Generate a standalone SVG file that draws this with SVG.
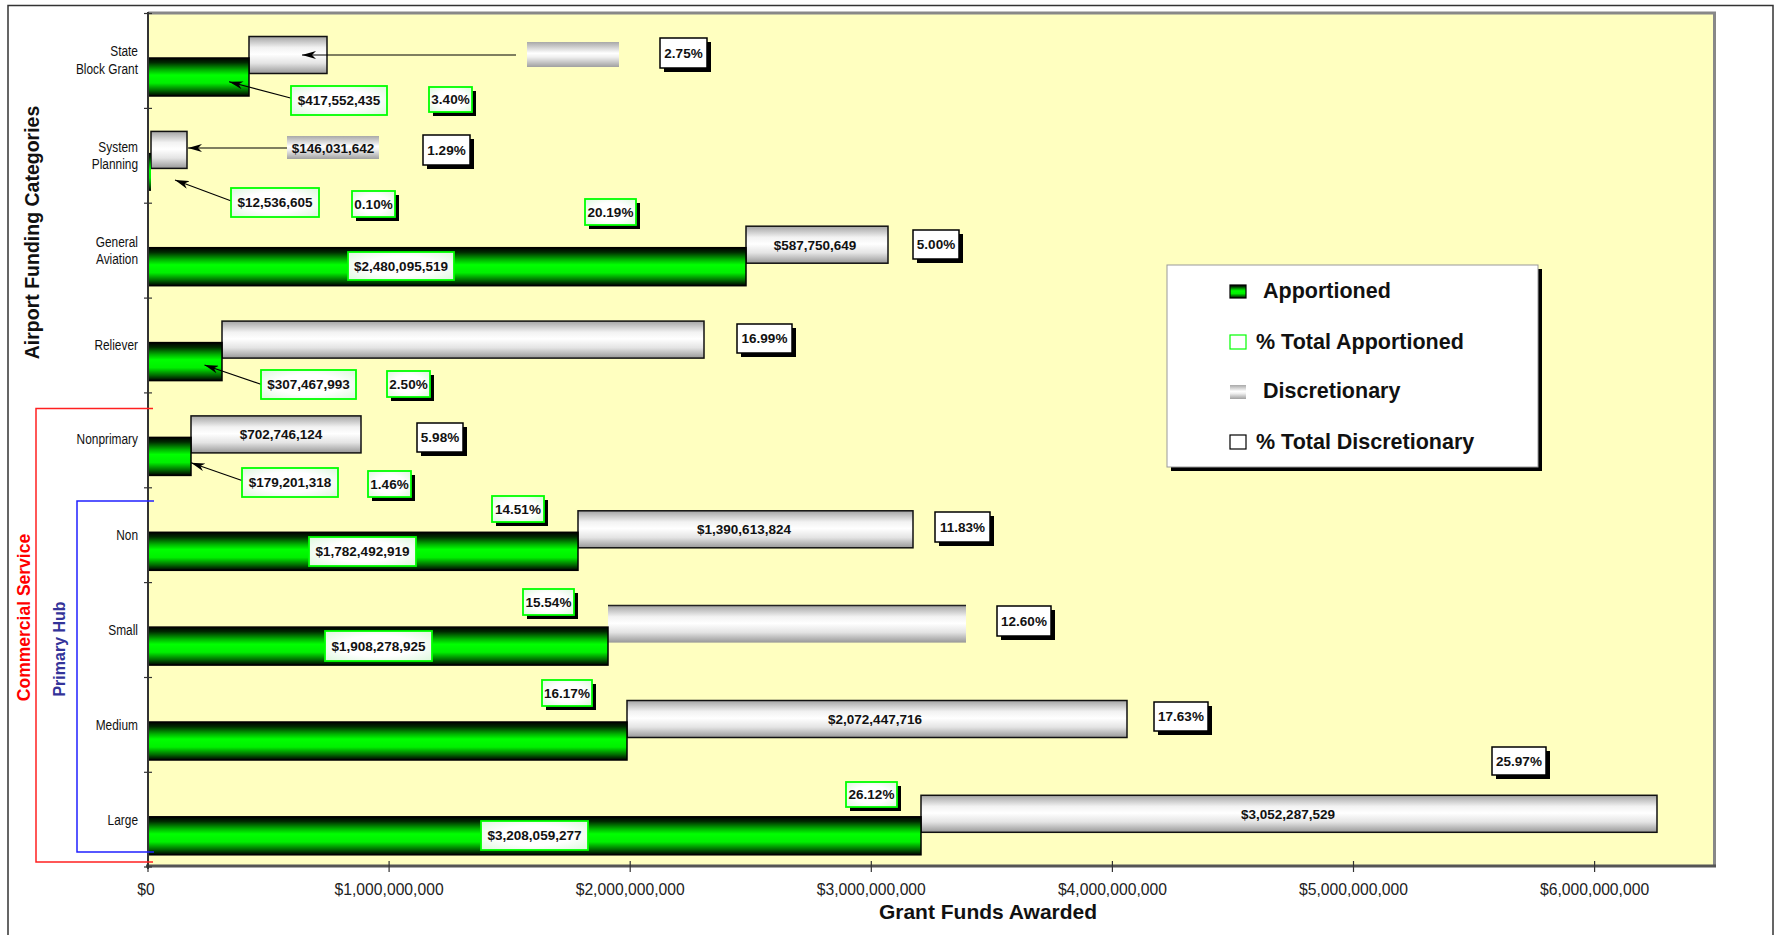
<svg xmlns="http://www.w3.org/2000/svg" width="1775" height="935" viewBox="0 0 1775 935">
<defs>
<linearGradient id="gGreen" x1="0" y1="0" x2="0" y2="1">
<stop offset="0" stop-color="#000"/><stop offset="0.12" stop-color="#002a00"/><stop offset="0.32" stop-color="#00b400"/><stop offset="0.45" stop-color="#00ff00"/><stop offset="0.66" stop-color="#00f000"/><stop offset="0.86" stop-color="#006a00"/><stop offset="1" stop-color="#000"/>
</linearGradient>
<linearGradient id="gGray" x1="0" y1="0" x2="0" y2="1">
<stop offset="0" stop-color="#a4a4a4"/><stop offset="0.3" stop-color="#f2f2f2"/><stop offset="0.48" stop-color="#ffffff"/><stop offset="0.72" stop-color="#e4e4e4"/><stop offset="1" stop-color="#989898"/>
</linearGradient>
<linearGradient id="gGrayLbl" x1="0" y1="0" x2="0" y2="1">
<stop offset="0" stop-color="#a8a8a8"/><stop offset="0.45" stop-color="#ffffff"/><stop offset="0.6" stop-color="#f0f0f0"/><stop offset="1" stop-color="#a0a0a0"/>
</linearGradient>
<radialGradient id="gGreenLbl" cx="0.5" cy="0.5" r="0.7">
<stop offset="0.5" stop-color="#ffffff"/><stop offset="1" stop-color="#dcf8dc"/>
</radialGradient>
<marker id="arr" viewBox="0 0 14 8" refX="14" refY="4" markerWidth="14" markerHeight="8" markerUnits="userSpaceOnUse" orient="auto">
<path d="M0,0 L14,4 L0,8 L4,4 Z" fill="#000"/>
</marker>
<style>
.bg{fill:#ffffc0}
.green{fill:url(#gGreen);stroke:#000;stroke-width:1.5}
.gray{fill:url(#gGray);stroke:#111;stroke-width:1.5}
.glbl{fill:url(#gGreenLbl);stroke:#00ff00;stroke-width:1.8}
.blbl{fill:#fff;stroke:#000;stroke-width:1.5}
.shadow{fill:#000}
.graylbl{fill:url(#gGrayLbl)}
.v{font-family:"Liberation Sans",Arial,sans-serif;font-weight:bold;font-size:13.5px;fill:#111;text-anchor:middle}
.cat{font-family:"Liberation Sans",Arial,sans-serif;font-size:14.5px;fill:#111;text-anchor:end}
.tick{font-family:"Liberation Sans",Arial,sans-serif;font-size:15.7px;fill:#222;text-anchor:middle}
.leg{font-family:"Liberation Sans",Arial,sans-serif;font-weight:bold;font-size:21.5px;fill:#111}
.conn{stroke:#000;stroke-width:1.1;fill:none;marker-end:url(#arr)}
</style>
</defs>
<rect x="0" y="0" width="1775" height="935" fill="#fff"/>
<rect x="8" y="5.5" width="1765" height="940" fill="none" stroke="#333" stroke-width="1.5"/>

<g id="plot-area">
<rect class="bg" x="148" y="14" width="1566" height="852"/>
<line x1="148" y1="13" x2="1716" y2="13" stroke="#888" stroke-width="3"/>
<line x1="1714.5" y1="12" x2="1714.5" y2="867" stroke="#888" stroke-width="3"/>
</g>

<g id="bars">
<rect class="gray" x="249" y="36.5" width="78" height="37"/>
<rect class="gray" x="151" y="131.4" width="36" height="37"/>
<rect class="gray" x="746" y="226.2" width="142" height="37"/>
<rect class="gray" x="222" y="321.1" width="482" height="37"/>
<rect class="gray" x="191" y="415.9" width="170" height="37"/>
<rect class="gray" x="578" y="510.8" width="335" height="37"/>
<rect fill="url(#gGray)" x="608" y="605.6" width="358" height="37"/>
<line x1="608" y1="605.6" x2="966" y2="605.6" stroke="#222" stroke-width="1.5"/>
<rect class="gray" x="627" y="700.5" width="500" height="37"/>
<rect class="gray" x="921" y="795.3" width="736" height="37"/>
<rect class="green" x="148" y="58" width="101" height="38"/>
<rect fill="url(#gGreen)" x="148" y="152.9" width="3" height="38"/>
<rect class="green" x="148" y="247.7" width="598" height="38"/>
<rect class="green" x="148" y="342.6" width="74" height="38"/>
<rect class="green" x="148" y="437.4" width="43" height="38"/>
<rect class="green" x="148" y="532.3" width="430" height="38"/>
<rect class="green" x="148" y="627.1" width="460" height="38"/>
<rect class="green" x="148" y="722" width="479" height="38"/>
<rect class="green" x="148" y="816.8" width="773" height="38"/>
</g>

<g id="axes">
<line x1="146" y1="866" x2="1716" y2="866" stroke="#555" stroke-width="3"/>
<line x1="148" y1="12" x2="148" y2="869" stroke="#333" stroke-width="2"/>
<g stroke="#333" stroke-width="1.2">
<line x1="144" y1="13.5" x2="152" y2="13.5"/><line x1="144" y1="108.4" x2="152" y2="108.4"/>
<line x1="144" y1="203.2" x2="152" y2="203.2"/><line x1="144" y1="298.1" x2="152" y2="298.1"/>
<line x1="144" y1="392.9" x2="152" y2="392.9"/><line x1="144" y1="487.8" x2="152" y2="487.8"/>
<line x1="144" y1="582.6" x2="152" y2="582.6"/><line x1="144" y1="677.5" x2="152" y2="677.5"/>
<line x1="144" y1="772.3" x2="152" y2="772.3"/><line x1="144" y1="867" x2="152" y2="867"/>
<line x1="148" y1="861" x2="148" y2="872"/><line x1="389.1" y1="861" x2="389.1" y2="872"/>
<line x1="630.2" y1="861" x2="630.2" y2="872"/><line x1="871.3" y1="861" x2="871.3" y2="872"/>
<line x1="1112.4" y1="861" x2="1112.4" y2="872"/><line x1="1353.5" y1="861" x2="1353.5" y2="872"/>
<line x1="1594.6" y1="861" x2="1594.6" y2="872"/>
</g>
<text class="tick" x="146" y="895">$0</text>
<text class="tick" x="389.1" y="895">$1,000,000,000</text>
<text class="tick" x="630.2" y="895">$2,000,000,000</text>
<text class="tick" x="871.3" y="895">$3,000,000,000</text>
<text class="tick" x="1112.4" y="895">$4,000,000,000</text>
<text class="tick" x="1353.5" y="895">$5,000,000,000</text>
<text class="tick" x="1594.6" y="895">$6,000,000,000</text>
<text x="988" y="919" font-family="Liberation Sans, Arial, sans-serif" font-weight="bold" font-size="21" fill="#111" text-anchor="middle">Grant Funds Awarded</text>
<text transform="translate(39,232.5) rotate(-90)" font-family="Liberation Sans, Arial, sans-serif" font-weight="bold" font-size="19.5" fill="#111" text-anchor="middle">Airport Funding Categories</text>
</g>

<g id="category-labels" transform="translate(138,0) scale(0.82,1) translate(-138,0)">
<text class="cat" x="138" y="56.5">State</text>
<text class="cat" x="138" y="74.5">Block Grant</text>
<text class="cat" x="138" y="152">System</text>
<text class="cat" x="138" y="169.5">Planning</text>
<text class="cat" x="138" y="247">General</text>
<text class="cat" x="138" y="264.5">Aviation</text>
<text class="cat" x="138" y="349.7">Reliever</text>
<text class="cat" x="138" y="444.5">Nonprimary</text>
<text class="cat" x="138" y="539.7">Non</text>
<text class="cat" x="138" y="634.7">Small</text>
<text class="cat" x="138" y="729.7">Medium</text>
<text class="cat" x="138" y="824.7">Large</text>
</g>

<g id="group-brackets">
<polyline points="153,408.5 36,408.5 36,862 153,862" fill="none" stroke="#ff2020" stroke-width="1.5"/>
<polyline points="154,501 77,501 77,852 154,852" fill="none" stroke="#2020ff" stroke-width="1.5"/>
<text transform="translate(30,617.5) rotate(-90)" font-family="Liberation Sans, Arial, sans-serif" font-weight="bold" font-size="17.5" fill="#ff0000" text-anchor="middle">Commercial Service</text>
<text transform="translate(64.5,649) rotate(-90)" font-family="Liberation Sans, Arial, sans-serif" font-weight="bold" font-size="16" fill="#333399" text-anchor="middle">Primary Hub</text>
</g>

<g id="connectors">
<line class="conn" x1="516" y1="55" x2="302" y2="55"/>
<line class="conn" x1="291.5" y1="98.3" x2="229" y2="81.7"/>
<line class="conn" x1="287" y1="148" x2="188" y2="148"/>
<line class="conn" x1="234" y1="202" x2="175" y2="180"/>
<line class="conn" x1="263" y1="385" x2="204.5" y2="365"/>
<line class="conn" x1="245.5" y1="481.7" x2="191" y2="462.7"/>
</g>

<g id="bar-values">
<text class="v" x="815" y="249.5">$587,750,649</text>
<text class="v" x="281" y="439.3">$702,746,124</text>
<text class="v" x="744" y="534">$1,390,613,824</text>
<text class="v" x="875" y="724">$2,072,447,716</text>
<text class="v" x="1288" y="819">$3,052,287,529</text>
</g>

<g id="gray-labels">
<rect class="graylbl" x="527" y="42" width="92" height="25"/>
<rect class="graylbl" x="287" y="136" width="92" height="23"/>
<text class="v" x="333" y="152.5">$146,031,642</text>
</g>

<g id="apportioned-values">
<rect class="glbl" x="291" y="86" width="96" height="29"/><text class="v" x="339" y="105.3">$417,552,435</text>
<rect class="glbl" x="231" y="188" width="88" height="29"/><text class="v" x="275" y="207.3">$12,536,605</text>
<rect class="glbl" x="348" y="252" width="106" height="28"/><text class="v" x="401" y="270.8">$2,480,095,519</text>
<rect class="glbl" x="261" y="370" width="95" height="29"/><text class="v" x="308.5" y="389.3">$307,467,993</text>
<rect class="glbl" x="242" y="468" width="96" height="29"/><text class="v" x="290" y="487.3">$179,201,318</text>
<rect class="glbl" x="309" y="537" width="107" height="29"/><text class="v" x="362.5" y="556.3">$1,782,492,919</text>
<rect class="glbl" x="325" y="631" width="107" height="30"/><text class="v" x="378.5" y="650.8">$1,908,278,925</text>
<rect class="glbl" x="481" y="821" width="107" height="29"/><text class="v" x="534.5" y="840.3">$3,208,059,277</text>
</g>

<g id="pct-apportioned">
<rect class="shadow" x="433" y="91" width="43" height="25"/><rect class="glbl" x="429" y="87" width="43" height="25"/><text class="v" x="450.5" y="104.3">3.40%</text>
<rect class="shadow" x="356" y="195" width="43" height="26"/><rect class="glbl" x="352" y="191" width="43" height="26"/><text class="v" x="373.5" y="208.8">0.10%</text>
<rect class="shadow" x="589" y="203" width="51" height="26"/><rect class="glbl" x="585" y="199" width="51" height="26"/><text class="v" x="610.5" y="216.8">20.19%</text>
<rect class="shadow" x="391" y="375" width="43" height="26"/><rect class="glbl" x="387" y="371" width="43" height="26"/><text class="v" x="408.5" y="388.8">2.50%</text>
<rect class="shadow" x="372" y="475" width="43" height="26"/><rect class="glbl" x="368" y="471" width="43" height="26"/><text class="v" x="389.5" y="488.8">1.46%</text>
<rect class="shadow" x="496" y="500" width="52" height="26"/><rect class="glbl" x="492" y="496" width="52" height="26"/><text class="v" x="518" y="513.8">14.51%</text>
<rect class="shadow" x="527" y="593" width="51" height="26"/><rect class="glbl" x="523" y="589" width="51" height="26"/><text class="v" x="548.5" y="606.8">15.54%</text>
<rect class="shadow" x="546" y="684" width="50" height="26"/><rect class="glbl" x="542" y="680" width="50" height="26"/><text class="v" x="567" y="697.8">16.17%</text>
<rect class="shadow" x="850" y="786" width="51" height="25"/><rect class="glbl" x="846" y="782" width="51" height="25"/><text class="v" x="871.5" y="799.3">26.12%</text>
</g>

<g id="pct-discretionary">
<rect class="shadow" x="664" y="42" width="47" height="30"/><rect class="blbl" x="660" y="38" width="47" height="30"/><text class="v" x="683.5" y="57.8">2.75%</text>
<rect class="shadow" x="427" y="139" width="47" height="30"/><rect class="blbl" x="423" y="135" width="47" height="30"/><text class="v" x="446.5" y="154.8">1.29%</text>
<rect class="shadow" x="917" y="234" width="46" height="29"/><rect class="blbl" x="913" y="230" width="46" height="29"/><text class="v" x="936" y="249.3">5.00%</text>
<rect class="shadow" x="741" y="328" width="55" height="29"/><rect class="blbl" x="737" y="324" width="55" height="29"/><text class="v" x="764.5" y="343.3">16.99%</text>
<rect class="shadow" x="421" y="427" width="46" height="29"/><rect class="blbl" x="417" y="423" width="46" height="29"/><text class="v" x="440" y="442.3">5.98%</text>
<rect class="shadow" x="939" y="516" width="55" height="30"/><rect class="blbl" x="935" y="512" width="55" height="30"/><text class="v" x="962.5" y="531.8">11.83%</text>
<rect class="shadow" x="1001" y="610" width="54" height="30"/><rect class="blbl" x="997" y="606" width="54" height="30"/><text class="v" x="1024" y="625.8">12.60%</text>
<rect class="shadow" x="1158" y="706" width="54" height="29"/><rect class="blbl" x="1154" y="702" width="54" height="29"/><text class="v" x="1181" y="721.3">17.63%</text>
<rect class="shadow" x="1496" y="751" width="54" height="28"/><rect class="blbl" x="1492" y="747" width="54" height="28"/><text class="v" x="1519" y="765.8">25.97%</text>
</g>

<g id="legend">
<rect class="shadow" x="1171" y="269" width="371" height="202"/>
<rect x="1167" y="265" width="371" height="202" fill="#fff" stroke="#999" stroke-width="1"/>
<rect x="1230" y="285" width="16" height="13" fill="url(#gGreen)" stroke="#000" stroke-width="1.2"/>
<text class="leg" x="1263" y="298">Apportioned</text>
<rect x="1230" y="335" width="16" height="14" fill="#fff" stroke="#00ff00" stroke-width="1.2"/>
<text class="leg" x="1256" y="349">% Total Apportioned</text>
<rect x="1230" y="385" width="16" height="14" fill="url(#gGrayLbl)"/>
<text class="leg" x="1263" y="398">Discretionary</text>
<rect x="1230" y="435" width="16" height="14" fill="#fff" stroke="#000" stroke-width="1.2"/>
<text class="leg" x="1256" y="449">% Total Discretionary</text>
</g>
</svg>
